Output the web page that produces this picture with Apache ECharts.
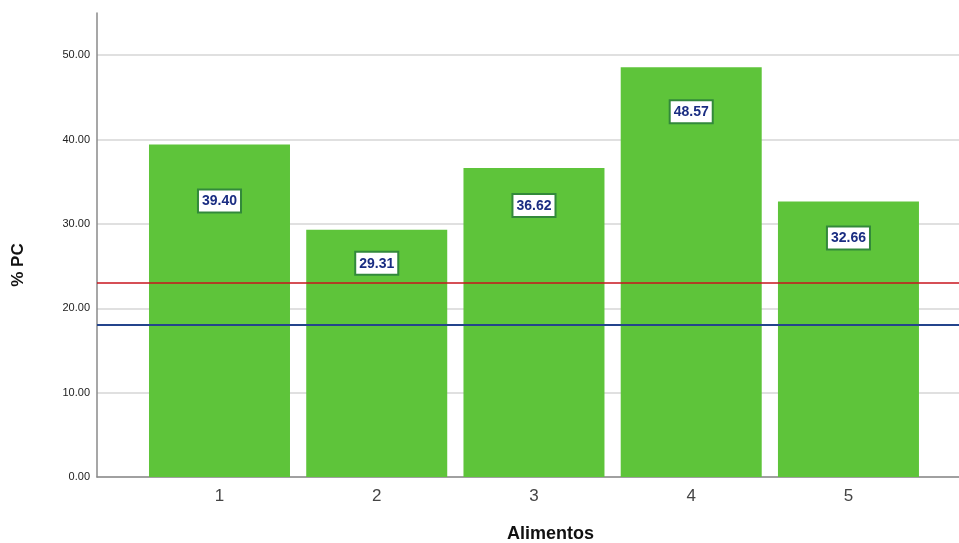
<!DOCTYPE html>
<html>
<head>
<meta charset="utf-8">
<script src="https://cdn.jsdelivr.net/npm/echarts@6/dist/echarts.min.js"></script>
<style>
  html, body { margin: 0; padding: 0; background: #ffffff; }
  #chart { width: 959px; height: 543px; }
</style>
</head>
<body>
<div id="chart"></div>
<script>
// Food groups on the x axis and their %PC values
const categories = [1, 2, 3, 4, 5];
const pcValues = [39.40, 29.31, 36.62, 48.57, 32.66];
// Horizontal reference levels
const refRed = 23;
const refBlue = 18;
const yTicks = [0, 10, 20, 30, 40, 50];

// Gap between each bar's top and its value box (px)
const labelGaps = [46, 23, 27, 34, 26];

const chart = echarts.init(document.getElementById('chart'), null, { renderer: 'canvas' });

const barData = categories.map((c, i) => ({
  value: [c, pcValues[i]],
  label: { distance: labelGaps[i] }
}));

chart.setOption({
  animation: false,
  backgroundColor: '#ffffff',
  grid: { left: 97, right: 0, top: 13, bottom: 66, containLabel: false, outerBoundsMode: 'none' },
  xAxis: {
    type: 'value',
    min: 0.221,
    max: 5.703,
    name: 'Alimentos',
    nameLocation: 'middle',
    nameGap: 48,
    nameTextStyle: {
      fontFamily: 'Liberation Sans, Arial, sans-serif',
      fontSize: 18, fontWeight: 'bold', color: '#111111',
      padding: [0, 0, 0, 45]
    },
    axisLine: { show: true, lineStyle: { color: '#8a8a8a', width: 1.5 } },
    axisTick: { show: false },
    splitLine: { show: false },
    axisLabel: {
      customValues: categories,
      margin: 11,
      fontFamily: 'Liberation Sans, Arial, sans-serif',
      fontSize: 17, color: '#444444',
      formatter: v => String(v)
    }
  },
  yAxis: {
    type: 'value',
    min: 0,
    max: 55,
    interval: 10,
    name: '% PC',
    nameLocation: 'middle',
    nameGap: 70,
    nameRotate: 90,
    nameTextStyle: {
      fontFamily: 'Liberation Sans, Arial, sans-serif',
      fontSize: 17, fontWeight: 'bold', color: '#111111',
      padding: [0, 40, 0, 0]
    },
    axisLine: { show: true, lineStyle: { color: '#8a8a8a', width: 1.5 } },
    axisTick: { show: false },
    axisLabel: {
      customValues: yTicks,
      margin: 7,
      fontFamily: 'Liberation Sans, Arial, sans-serif',
      fontSize: 11, color: '#222222',
      formatter: v => v.toFixed(2)
    },
    splitLine: {
      show: true,
      showMaxLine: false,
      lineStyle: { color: '#d6d6d6', width: 1.5 }
    }
  },
  series: [
    {
      type: 'bar',
      data: barData,
      barWidth: 141,
      itemStyle: { color: '#5ec43a' },
      label: {
        show: true,
        position: 'insideTop',
        formatter: p => p.value[1].toFixed(2),
        fontFamily: 'Liberation Sans, Arial, sans-serif',
        fontSize: 14,
        fontWeight: 'bold',
        color: '#1a2d82',
        backgroundColor: '#ffffff',
        borderColor: '#32893a',
        borderWidth: 2,
        padding: [4, 3, 3, 3]
      },
      z: 2,
      markLine: {
        silent: true,
        symbol: 'none',
        label: { show: false },
        z: 5,
        data: [
          { yAxis: refRed, lineStyle: { color: '#c8141e', width: 1.5, type: 'solid' } },
          { yAxis: refBlue, lineStyle: { color: '#24448c', width: 2.2, type: 'solid' } }
        ]
      }
    }
  ]
});
</script>
</body>
</html>
